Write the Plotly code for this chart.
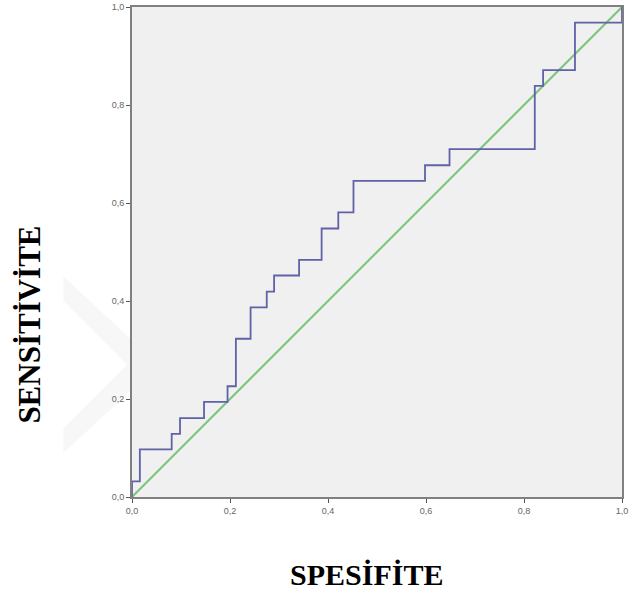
import plotly.graph_objects as go

# ROC curve vertices (1 - specificity, sensitivity)
fpr = [0.0, 0.0, 0.016, 0.016, 0.081, 0.081, 0.098, 0.098, 0.147, 0.147,
       0.195, 0.195, 0.212, 0.212, 0.242, 0.242, 0.275, 0.275, 0.290, 0.290,
       0.341, 0.341, 0.387, 0.387, 0.421, 0.421, 0.452, 0.452, 0.598, 0.598,
       0.648, 0.648, 0.822, 0.822, 0.839, 0.839, 0.904, 0.904, 1.0, 1.0]
tpr = [0.0, 0.032, 0.032, 0.097, 0.097, 0.129, 0.129, 0.161, 0.161, 0.194,
       0.194, 0.226, 0.226, 0.323, 0.323, 0.387, 0.387, 0.419, 0.419, 0.452,
       0.452, 0.484, 0.484, 0.548, 0.548, 0.581, 0.581, 0.645, 0.645, 0.677,
       0.677, 0.710, 0.710, 0.839, 0.839, 0.871, 0.871, 0.968, 0.968, 1.0]
ref_x = [0.0, 1.0]
ref_y = [0.0, 1.0]
tick_vals = [0.0, 0.2, 0.4, 0.6, 0.8, 1.0]

x_title = "SPESİFİTE"
y_title = "SENSİTİVİTE"

fig = go.Figure()
fig.add_trace(go.Scatter(x=ref_x, y=ref_y, mode="lines",
                         line=dict(color="#7cc47c", width=2), hoverinfo="skip"))
fig.add_trace(go.Scatter(x=fpr, y=tpr, mode="lines",
                         line=dict(color="#5f62a6", width=1.8)))

# faint watermark chevron
wm = "#f7f7f7"
fig.add_shape(type="path", xref="paper", yref="paper", layer="below",
              path="M -0.14 0.40 L -0.01 0.27 L -0.14 0.14 L -0.14 0.09 L 0.0 0.22 L 0.0 0.32 L -0.14 0.45 Z",
              fillcolor=wm, line=dict(width=0))

axis_common = dict(range=[0, 1], tickvals=tick_vals, tickformat=".1f",
                   showgrid=False, zeroline=False, showline=True, mirror=True,
                   linecolor="#808080", linewidth=2, ticks="outside",
                   ticklen=4, tickwidth=1, tickcolor="#555555",
                   tickfont=dict(family="Arial, Liberation Sans", size=9, color="#666666"),
                   fixedrange=True, automargin=False)

fig.update_layout(
    width=629, height=594,
    margin=dict(l=132, r=7, t=7, b=97, autoexpand=False),
    plot_bgcolor="#f0f0f0", paper_bgcolor="white",
    separators=",.",
    showlegend=False,
    xaxis=axis_common,
    yaxis=axis_common,
    annotations=[
        dict(text="<b>%s</b>" % x_title, xref="paper", yref="paper",
             x=0.479, y=-0.158, xanchor="center", yanchor="middle", showarrow=False,
             font=dict(family="Liberation Serif, Times New Roman", size=30, color="black")),
        dict(text="<b>%s</b>" % y_title, xref="paper", yref="paper",
             x=-0.21, y=0.352, xanchor="center", yanchor="middle", showarrow=False,
             textangle=-90,
             font=dict(family="Liberation Serif, Times New Roman", size=31, color="black")),
    ],
)

fig.write_html("out.html")
